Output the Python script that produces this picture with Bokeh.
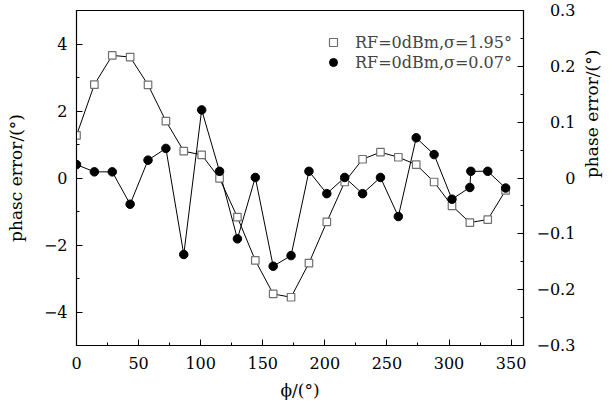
import math
from bokeh.plotting import figure
from bokeh.models import Range1d, LinearAxis, FixedTicker, Legend, LegendItem
from bokeh.embed import file_html
from bokeh.resources import INLINE

# ---- data ----
phi_sq = [0, 14.4, 28.8, 43.2, 57.6, 72, 86.4, 100.8, 115.2, 129.6, 144, 158.4, 172.8,
          187.2, 201.6, 216, 230.4, 244.8, 259.2, 273.6, 288, 302.4, 316.8, 331.2, 345.6]
err_sq = [1.27, 2.79, 3.66, 3.61, 2.78, 1.70, 0.80, 0.69, -0.01, -1.17, -2.46, -3.46, -3.56,
          -2.54, -1.31, -0.12, 0.56, 0.77, 0.62, 0.40, -0.12, -0.83, -1.33, -1.24, -0.37]

phi_ci = [0, 14.4, 28.8, 43.2, 57.6, 72, 86.4, 100.8, 115.2, 129.6, 144, 158.4, 172.8,
          187.2, 201.6, 216, 230.4, 244.8, 259.2, 273.6, 288, 302.4, 316.8, 317.6, 331.2, 345.6]
err_ci = [0.024, 0.011, 0.011, -0.047, 0.032, 0.053, -0.137, 0.122, 0.012, -0.109, 0.001,
          -0.158, -0.139, 0.012, -0.028, 0.001, -0.028, 0.001, -0.069, 0.072, 0.042, -0.038,
          -0.017, 0.012, 0.012, -0.018]

label_sq = "RF=0dBm,σ=1.95°"
label_ci = "RF=0dBm,σ=0.07°"

x_ticks = [0, 50, 100, 150, 200, 250, 300, 350]
x_minor = [25, 75, 125, 175, 225, 275, 325]
l_ticks = [-4, -2, 0, 2, 4]
l_minor = [-5, -3, -1, 1, 3, 5]
r_ticks = [-0.3, -0.2, -0.1, 0, 0.1, 0.2, 0.3]
r_minor = [-0.25, -0.15, -0.05, 0.05, 0.15, 0.25]

FONT = "DejaVu Serif"
FS = "16px"
TFS = "17px"

p = figure(width=615, height=412, output_backend="svg", toolbar_location=None,
           x_range=Range1d(0, 360), y_range=Range1d(-5, 5),
           min_border_left=76, min_border_right=88, min_border_top=10, min_border_bottom=67)
p.extra_y_ranges = {"r": Range1d(-0.3, 0.3)}
p.grid.visible = False
p.outline_line_color = "black"
p.outline_line_width = 1.2
p.background_fill_color = "white"
p.border_fill_color = "white"


def style_axis(ax):
    ax.major_tick_in = 6
    ax.major_tick_out = 0
    ax.minor_tick_in = 3
    ax.minor_tick_out = 0
    ax.axis_line_color = "black"
    ax.major_tick_line_color = "black"
    ax.minor_tick_line_color = "black"
    ax.major_label_text_font = FONT
    ax.major_label_text_font_size = FS
    ax.major_label_text_color = "black"
    ax.axis_label_text_font = FONT
    ax.axis_label_text_font_size = TFS
    ax.axis_label_text_font_style = "normal"
    ax.axis_label_text_color = "black"


xa = p.xaxis[0]
xa.ticker = FixedTicker(ticks=x_ticks, minor_ticks=x_minor)
xa.axis_label = "ϕ/(°)"
style_axis(xa)
xa.major_label_standoff = 11
xa.axis_label_standoff = 8

ya = p.yaxis[0]
ya.ticker = FixedTicker(ticks=l_ticks, minor_ticks=l_minor)
ya.axis_label = "phasc error/(°)"
ya.major_label_overrides = {t: ("−" + str(abs(t)) if t < 0 else str(t)) for t in l_ticks}
style_axis(ya)
ya.major_label_standoff = 9
ya.axis_label_standoff = 15

ra = LinearAxis(y_range_name="r", ticker=FixedTicker(ticks=r_ticks, minor_ticks=r_minor),
                axis_label="phase error/(°)")
pad = {-0.3: "", -0.2: "", -0.1: "", 0: "\u2007\u2007\u2008\u2009",
       0.1: "\u2007\u2009", 0.2: "\u2007\u2009", 0.3: "\u2007\u2009"}
ra.major_label_overrides = {t: pad[t] + (("−%g" % abs(t)) if t < 0 else ("%g" % t)) for t in r_ticks}
style_axis(ra)
ra.major_label_standoff = 13
ra.axis_label_standoff = 14
try:
    ra.axis_label_orientation = math.pi / 2
except Exception:
    pass
p.add_layout(ra, "right")

# lines
p.line(phi_sq, err_sq, line_color="black", line_width=1)
p.line(phi_ci, err_ci, y_range_name="r", line_color="black", line_width=1)
sq = p.scatter(phi_sq, err_sq, marker="square", size=7.5, fill_color="white",
               line_color="#707070", line_width=1.2)
ci = p.scatter(phi_ci, err_ci, y_range_name="r", marker="circle", size=8.5,
               fill_color="black", line_color="black")

legend = Legend(items=[LegendItem(label=label_sq, renderers=[sq]),
                       LegendItem(label=label_ci, renderers=[ci])],
                location=(247, 273), padding=0, spacing=0, margin=0,
                glyph_width=20, glyph_height=20, label_height=20, label_standoff=12,
                label_text_font=FONT, label_text_font_size=FS,
                border_line_color=None, background_fill_alpha=0)
p.add_layout(legend, "center")

open("out.html", "w").write(file_html(p, INLINE))
